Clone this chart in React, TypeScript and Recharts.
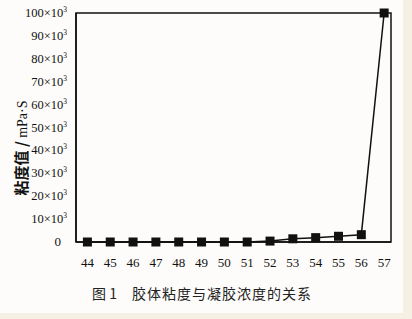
import React from 'react';
import {
  LineChart,
  Line,
  XAxis,
  YAxis,
  ReferenceArea,
} from 'recharts';

// gel concentration (x) vs colloid viscosity (mPa·S)
const concentrations = [44, 45, 46, 47, 48, 49, 50, 51, 52, 53, 54, 55, 56, 57];
const viscosity = [0, 0, 0, 0, 0, 0, 0, 0, 400, 1400, 1900, 2500, 3200, 100000];
const yTicks = [0, 10000, 20000, 30000, 40000, 50000, 60000, 70000, 80000, 90000, 100000];

const data = concentrations.map((c, i) => ({ c, v: viscosity[i] }));

const serif = '"Liberation Serif", "DejaVu Serif", serif';
const cjk = '"Noto Sans CJK SC", sans-serif';

const YTick = (props: any) => {
  const { x, y, payload } = props;
  const v = payload.value as number;
  if (v === 0) {
    return (
      <text x={x - 7} y={y + 4} textAnchor="end" fontSize={13} fontFamily={serif} fill="#111">
        0
      </text>
    );
  }
  return (
    <text x={x - 1} y={y + 4} textAnchor="end" fontSize={12.5} fontFamily={serif} fill="#111">
      {`${v / 1000}×10`}
      <tspan fontSize={7.5} dy={-5}>3</tspan>
    </text>
  );
};

const XTick = (props: any) => {
  const { x, y, payload } = props;
  return (
    <text x={x} y={y + 17} textAnchor="middle" fontSize={13} fontFamily={serif} fill="#111">
      {payload.value}
    </text>
  );
};

const Square = (props: any) => {
  const { cx, cy } = props;
  if (cx == null || cy == null) return null;
  return <rect x={cx - 4.5} y={cy - 4.5} width={9} height={9} fill="#111" />;
};

export default function App() {
  return (
    <div
      style={{
        position: 'fixed',
        left: 0,
        top: 0,
        width: 412,
        height: 319,
        background: '#f6efe4',
      }}
    >
      <div style={{ position: 'absolute', left: 0, top: 0, width: 403, height: 313, background: '#fdfcfa' }}>
        <LineChart
          width={403}
          height={313}
          data={data}
          margin={{ top: 13, right: 12, left: 0, bottom: 0 }}
        >
          <XAxis
            dataKey="c"
            type="number"
            domain={[43.5, 57.3]}
            ticks={concentrations}
            interval={0}
            tick={<XTick />}
            tickLine={false}
            axisLine={{ stroke: '#111', strokeWidth: 1.5 }}
            height={71}
          />
          <YAxis
            type="number"
            domain={[0, 100000]}
            ticks={yTicks}
            interval={0}
            tick={<YTick />}
            tickLine={false}
            axisLine={{ stroke: '#111', strokeWidth: 1.5 }}
            width={76}
          />
          <ReferenceArea
            x1={43.5}
            x2={57.3}
            y1={0}
            y2={100000}
            fill="none"
            stroke="#111"
            strokeWidth={1.5}
            ifOverflow="visible"
          />
          <Line
            type="linear"
            dataKey="v"
            stroke="#111"
            strokeWidth={1.5}
            dot={<Square />}
            activeDot={false}
            isAnimationActive={false}
          />
        </LineChart>
        <div
          style={{
            position: 'absolute',
            left: 20,
            top: 148,
            transform: 'translate(-50%, -50%) rotate(-90deg)',
            whiteSpace: 'pre',
            fontSize: 15,
            fontFamily: cjk,
            fontWeight: 700,
            color: '#111',
          }}
        >
          {'粘度值 / '}
          <span style={{ fontFamily: serif, fontWeight: 400, fontSize: 14 }}>mPa·S</span>
        </div>
        <div
          style={{
            position: 'absolute',
            left: 92,
            top: 283,
            whiteSpace: 'pre',
            fontSize: 14,
            fontFamily: cjk,
            color: '#222',
          }}
        >
          图 1
        </div>
        <div
          style={{
            position: 'absolute',
            left: 132,
            top: 283,
            whiteSpace: 'pre',
            fontSize: 14,
            letterSpacing: 1,
            fontFamily: cjk,
            color: '#222',
          }}
        >
          胶体粘度与凝胶浓度的关系
        </div>
      </div>
    </div>
  );
}
